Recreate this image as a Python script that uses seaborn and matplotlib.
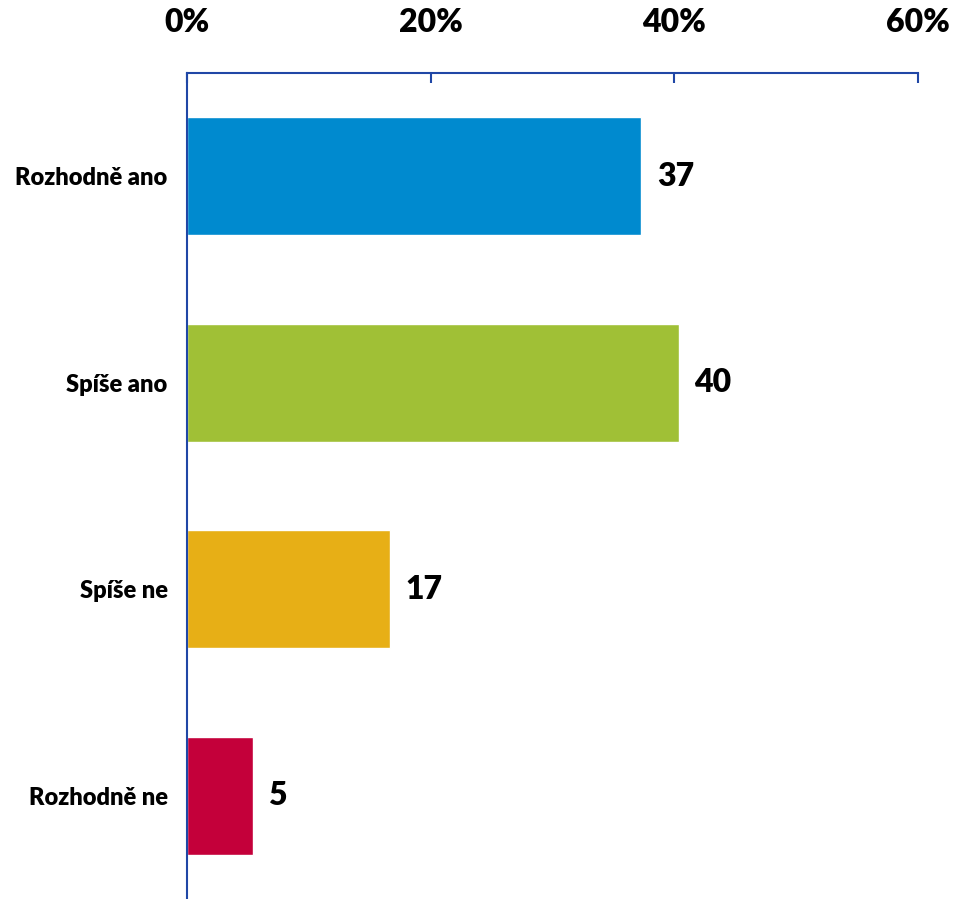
import matplotlib
matplotlib.use("Agg")
import matplotlib.pyplot as plt
import seaborn as sns
import pandas as pd

# Data
categories = ["Rozhodně ano", "Spíše ano", "Spíše ne", "Rozhodně ne"]
values = [37.3, 40.4, 16.7, 5.4]
value_labels = ["37", "40", "17", "5"]
colors = ["#008ACF", "#A0C036", "#E7AF16", "#C4003A"]
xticks = [0, 20, 40, 60]
xtick_labels = ["0%", "20%", "40%", "60%"]

sns.set_theme(style="white")
plt.rcParams["font.family"] = ["Lato", "DejaVu Sans"]

df = pd.DataFrame({"cat": categories, "val": values})

fig = plt.figure(figsize=(9.54, 8.99), dpi=100)
ax = fig.add_axes([187 / 954, 0.0, (918 - 187) / 954, 1 - 73 / 899])

sns.barplot(data=df, y="cat", x="val", hue="cat", palette=colors,
            orient="h", width=0.57, legend=False, ax=ax, saturation=1)

axis_col = "#2047A6"
ax.set_xlim(0, 60)
ax.set_ylim(3.5, -0.5)
ax.xaxis.tick_top()
ax.set_xticks(xticks)
ax.set_xticklabels(xtick_labels, fontsize=23, fontweight="heavy", color="black")
ax.tick_params(axis="x", direction="in", length=7, width=1.5, color=axis_col, pad=26)

ax.set_yticks(range(len(categories)))
ax.set_yticklabels(categories, fontsize=17, fontweight="heavy", color="black")
ax.set_yticks([-0.5, 0.5, 1.5, 2.5, 3.5], minor=True)
ax.tick_params(axis="y", which="major", length=0, pad=14)
ax.tick_params(axis="y", which="minor", direction="out", length=7, width=1.5, color=axis_col)

for s in ["right", "bottom"]:
    ax.spines[s].set_visible(False)
for s in ["top", "left"]:
    ax.spines[s].set_color(axis_col)
    ax.spines[s].set_linewidth(1.5)

ax.set_xlabel("")
ax.set_ylabel("")

for i, (v, lab) in enumerate(zip(values, value_labels)):
    ax.annotate(lab, (v, i), xytext=(11, 0), textcoords="offset points",
                ha="left", va="center", fontsize=23, fontweight="heavy", color="black")

fig.savefig("out.png", dpi=100)
